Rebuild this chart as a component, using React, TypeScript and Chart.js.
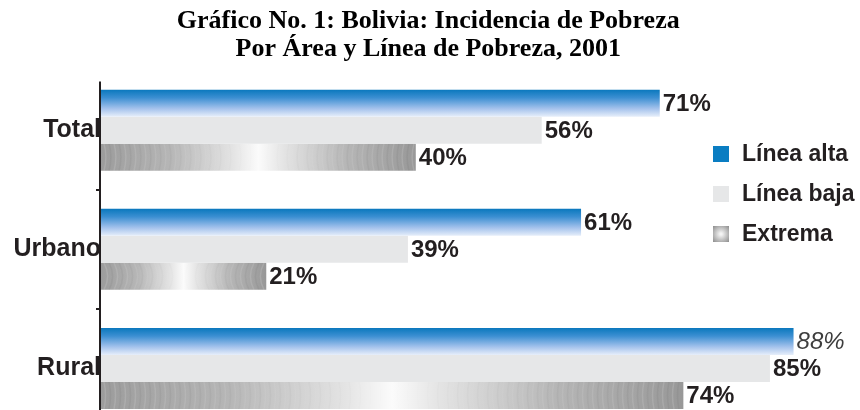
import React, { useEffect, useRef } from 'react';
import { Chart, registerables } from 'chart.js';

Chart.register(...registerables);

const titleLines = ['Gráfico No. 1: Bolivia: Incidencia de Pobreza', 'Por Área y Línea de Pobreza, 2001'];
const categories = ['Total', 'Urbano', 'Rural'];
const seriesNames = ['Línea alta', 'Línea baja', 'Extrema'];
const lineaAlta = [71, 61, 88];
const lineaBaja = [56, 39, 85];
const extrema = [40, 21, 74];

const TEXT = '#231f20';
const CAT_PCT = 0.68;

function barBox(chart: any, dsIndex: number, dataIndex: number) {
  const yS = chart.scales.y;
  const c = yS.getPixelForValue(dataIndex);
  const band = Math.abs(yS.getPixelForValue(1) - yS.getPixelForValue(0));
  const group = band * CAT_PCT;
  const h = group / 3;
  const top = c - group / 2 + dsIndex * h;
  return { top, bottom: top + h };
}

function blueFill(ctx: any) {
  const chart = ctx.chart;
  if (!chart.chartArea || ctx.type !== 'data') return '#0b7cc1';
  const { top, bottom } = barBox(chart, ctx.datasetIndex, ctx.dataIndex);
  const g = chart.ctx.createLinearGradient(0, top, 0, bottom);
  g.addColorStop(0, '#0a78bd');
  g.addColorStop(0.3, '#3c8fd2');
  g.addColorStop(0.7, '#a4c2ec');
  g.addColorStop(1, '#e6eefa');
  return g;
}

function extremeFill(ctx: any) {
  const chart = ctx.chart;
  if (!chart.chartArea || ctx.type !== 'data') return '#b0b0b0';
  const xS = chart.scales.x;
  const x0 = xS.getPixelForValue(0);
  const x1 = xS.getPixelForValue(ctx.raw as number);
  const g = chart.ctx.createLinearGradient(x0, 0, x1, 0);
  g.addColorStop(0, '#9c9c9c');
  g.addColorStop(0.22, '#b6b6b6');
  g.addColorStop(0.42, '#e4e4e4');
  g.addColorStop(0.5, '#fbfbfb');
  g.addColorStop(0.58, '#e4e4e4');
  g.addColorStop(0.78, '#b6b6b6');
  g.addColorStop(1, '#989898');
  return g;
}

const texturePlugin = {
  id: 'extremeTexture',
  afterDatasetDraw(chart: any, args: any) {
    if (args.index !== 2) return;
    const { ctx } = chart;
    args.meta.data.forEach((el: any) => {
      const left = Math.min(el.base, el.x);
      const right = Math.max(el.base, el.x);
      const top = el.y - el.height / 2;
      const bottom = el.y + el.height / 2;
      const mid = (left + right) / 2;
      const bulge = Math.max(1.5, Math.min(4, 600 / (right - left)));
      ctx.save();
      ctx.beginPath();
      ctx.rect(left, top, right - left, bottom - top);
      ctx.clip();
      ctx.lineWidth = 1.5;
      let k = 0;
      for (let x = left + 3; x < right; x += 5, k++) {
        const dir = x < mid ? 1 : -1;
        const dist = Math.abs(x - mid) / ((right - left) / 2);
        ctx.strokeStyle = k % 2 === 0 ? `rgba(255,255,255,${0.14 * dist})` : `rgba(90,90,90,${0.1 * dist})`;
        ctx.beginPath();
        ctx.moveTo(x, top);
        ctx.quadraticCurveTo(x + dir * bulge * 2, (top + bottom) / 2, x, bottom);
        ctx.stroke();
      }
      ctx.restore();
    });
  },
};

const axisLinePlugin = {
  id: 'axisLine',
  afterDraw(chart: any) {
    const { ctx, chartArea } = chart;
    ctx.save();
    ctx.strokeStyle = TEXT;
    ctx.lineWidth = 2;
    ctx.beginPath();
    ctx.moveTo(chartArea.left - 1, chartArea.top + 11);
    ctx.lineTo(chartArea.left - 1, chartArea.bottom);
    ctx.stroke();
    ctx.restore();
  },
};

const valueLabelPlugin = {
  id: 'valueLabels',
  afterDatasetsDraw(chart: any) {
    const { ctx } = chart;
    ctx.save();
    ctx.textBaseline = 'middle';
    ctx.textAlign = 'left';
    chart.data.datasets.forEach((ds: any, i: number) => {
      const meta = chart.getDatasetMeta(i);
      meta.data.forEach((el: any, j: number) => {
        const v = ds.data[j];
        const special = i === 0 && j === categories.length - 1;
        ctx.font = special
          ? 'italic 400 24px "Liberation Sans", Arial, sans-serif'
          : 'bold 24px "Liberation Sans", Arial, sans-serif';
        ctx.fillStyle = special ? '#3d3d3d' : TEXT;
        ctx.fillText(v + '%', el.x + 3, el.y + 1);
      });
    });
    ctx.restore();
  },
};

const legendPlugin = {
  id: 'customLegend',
  afterDraw(chart: any) {
    const { ctx } = chart;
    const sx = 713;
    const tx = 742;
    const rows = [154, 194, 234];
    ctx.save();
    ctx.font = 'bold 23px "Liberation Sans", Arial, sans-serif';
    ctx.textBaseline = 'middle';
    ctx.textAlign = 'left';
    seriesNames.forEach((name, i) => {
      const cy = rows[i];
      const y0 = cy - 8;
      let fill: any;
      if (i === 0) fill = '#0a7dc2';
      else if (i === 1) fill = '#e6e7e8';
      else {
        const g = ctx.createRadialGradient(sx + 8, y0 + 8, 1, sx + 8, y0 + 8, 11);
        g.addColorStop(0, '#f4f4f4');
        g.addColorStop(1, '#8f8f8f');
        fill = g;
      }
      ctx.fillStyle = fill;
      ctx.fillRect(sx, y0, 16, 16);
      ctx.fillStyle = TEXT;
      ctx.fillText(name, tx, cy + 1);
    });
    ctx.restore();
  },
};

export default function App() {
  const ref = useRef<HTMLCanvasElement | null>(null);
  useEffect(() => {
    document.body.style.margin = '0';
    const canvas = ref.current;
    if (!canvas) return;
    const chart = new Chart(canvas, {
      type: 'bar',
      data: {
        labels: categories,
        datasets: [
          { label: seriesNames[0], data: lineaAlta, backgroundColor: blueFill, borderWidth: 0 },
          { label: seriesNames[1], data: lineaBaja, backgroundColor: '#e6e7e8', borderWidth: 0 },
          { label: seriesNames[2], data: extrema, backgroundColor: extremeFill, borderWidth: 0 },
        ],
      },
      options: {
        indexAxis: 'y',
        responsive: false,
        animation: false,
        devicePixelRatio: 1,
        datasets: { bar: { barPercentage: 1, categoryPercentage: CAT_PCT } },
        layout: { padding: { left: 0, right: 3.5, top: 0, bottom: 3 } },
        plugins: {
          legend: { display: false },
          tooltip: { enabled: false },
          title: {
            display: true,
            text: titleLines,
            color: '#000',
            font: { family: '"Liberation Serif", "Times New Roman", serif', size: 26, weight: 'bold', lineHeight: 1.05 },
            padding: { top: 8, bottom: 8 },
          },
        },
        scales: {
          x: { display: false, min: 0, max: 96 },
          y: {
            grid: {
              drawOnChartArea: false,
              drawTicks: true,
              tickLength: 5,
              lineWidth: 2,
              offset: true,
              color: (c: any) => (c.index === 0 ? 'rgba(0,0,0,0)' : TEXT),
            },
            border: { display: false },
            ticks: {
              color: TEXT,
              padding: -5,
              font: { family: '"Liberation Sans", Arial, sans-serif', size: 25, weight: 'bold' },
            },
            afterFit: (s: any) => {
              s.width = 101;
            },
          },
        },
      },
      plugins: [texturePlugin, axisLinePlugin, valueLabelPlugin, legendPlugin],
    });
    return () => chart.destroy();
  }, []);
  return (
    <div style={{ width: 860, height: 410, overflow: 'hidden', position: 'relative', background: '#fff' }}>
      <canvas ref={ref} width={860} height={438} style={{ display: 'block' }} />
    </div>
  );
}
